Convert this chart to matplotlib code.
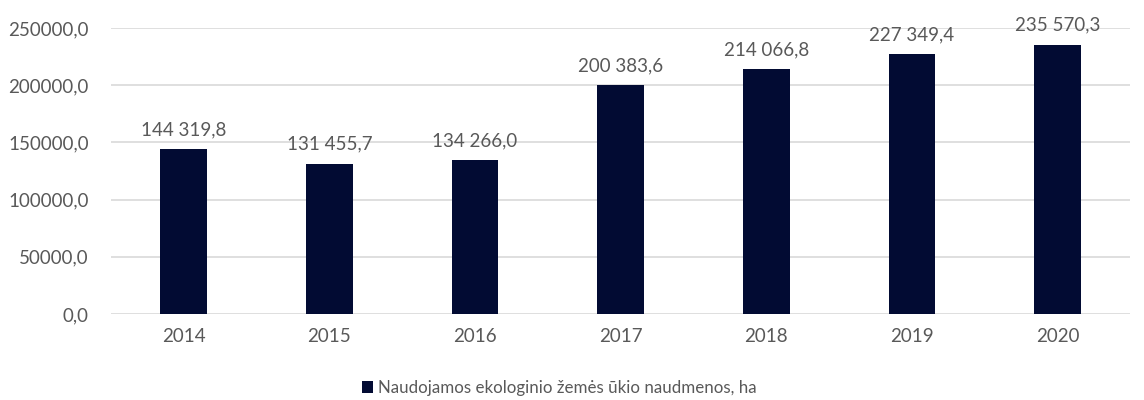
import matplotlib
matplotlib.use("Agg")
import matplotlib.pyplot as plt

years = ["2014", "2015", "2016", "2017", "2018", "2019", "2020"]
values = [144319.8, 131455.7, 134266.0, 200383.6, 214066.8, 227349.4, 235570.3]
yticks = [0, 50000, 100000, 150000, 200000, 250000]
legend_label = "Naudojamos ekologinio žemės ūkio naudmenos, ha"

bar_color = "#020b33"
text_color = "#595959"

plt.rcParams['font.family'] = ['Lato', 'DejaVu Sans']

fig = plt.figure(figsize=(11.44, 4.0), dpi=100)
ax = fig.add_axes([0.097, 0.215, 0.891, 0.715])

x = list(range(len(years)))
bars = ax.bar(x, values, width=0.32, color=bar_color, zorder=3, label=legend_label)

def fmt(v):
    s = f"{v:,.1f}"
    return s.replace(",", " ").replace(".", ",")

for xi, v in zip(x, values):
    ax.text(xi, v + 9500, fmt(v), ha="center", va="bottom", fontsize=13.5, color=text_color)

ax.set_xlim(-0.5, len(years) - 0.5)
ax.set_ylim(0, 250000)
ax.set_yticks(yticks)
ax.set_yticklabels([f"{t},0" for t in yticks])
ax.set_xticks(x)
ax.set_xticklabels(years)
ax.tick_params(axis="both", length=0, labelsize=13.5, labelcolor=text_color)
ax.tick_params(axis="y", pad=16)
ax.tick_params(axis="x", pad=10)
ax.grid(axis="y", color="#d9d9d9", linewidth=1.2, zorder=0)
for s in ax.spines.values():
    s.set_visible(False)

fig.legend(handles=[bars], labels=[legend_label], loc="center", bbox_to_anchor=(0.489, 0.03),
           frameon=False, fontsize=12.2, handlelength=0.65, handleheight=0.65, handletextpad=0.3,
           labelcolor=text_color)

fig.savefig("out.png", dpi=100)
